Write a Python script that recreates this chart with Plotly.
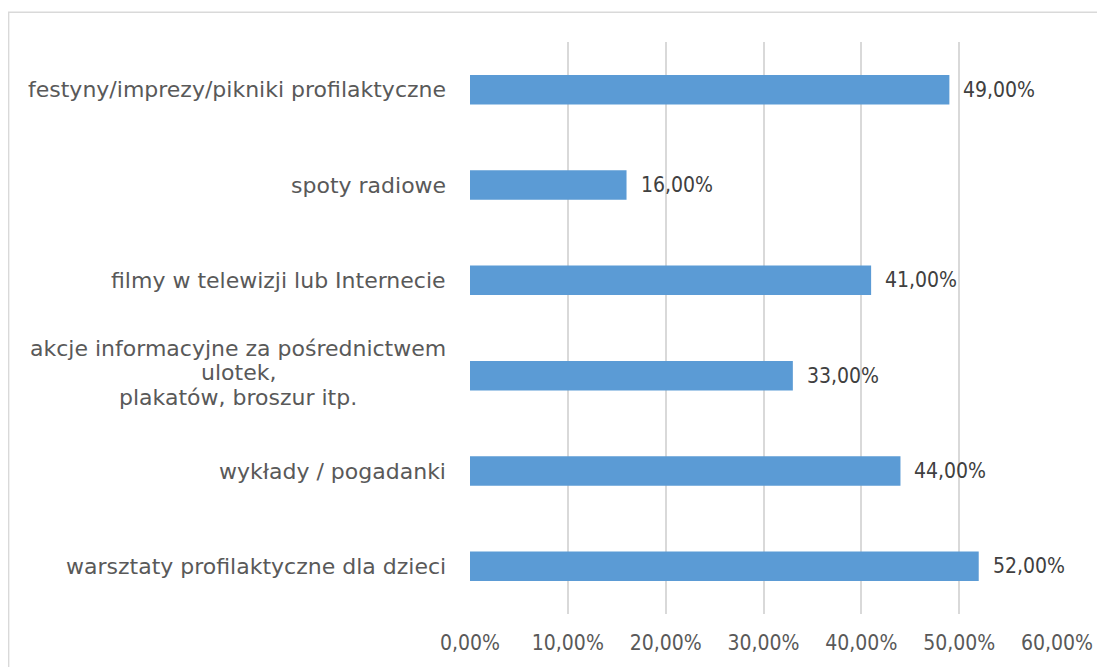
import plotly.graph_objects as go

categories = [
    "warsztaty profilaktyczne dla dzieci",
    "wykłady / pogadanki",
    "akcje informacyjne za pośrednictwem<br>ulotek,<br>plakatów, broszur itp.",
    "filmy w telewizji lub Internecie",
    "spoty radiowe",
    "festyny/imprezy/pikniki profilaktyczne",
]
values = [0.52, 0.44, 0.33, 0.41, 0.16, 0.49]
x_ticks = [0, 0.1, 0.2, 0.3, 0.4, 0.5, 0.6]

FONT = "DejaVu Sans"
NUMFONT = "DejaVu Sans Condensed, DejaVu Sans"
LINE_H = 24.5
fig = go.Figure()
fig.add_trace(go.Bar(
    y=categories, x=values, orientation="h",
    marker=dict(color="#5B9BD5", line=dict(width=0)),
    width=0.31,
))
for c, v in zip(categories, values):
    lines = c.split("<br>")
    if len(lines) == 1:
        fig.add_annotation(x=0, xref="paper", y=c, yref="y", text=c,
                           xanchor="right", xshift=-22, showarrow=False,
                           font=dict(family=FONT, size=22, color="#595959"))
    else:
        mid = (len(lines) - 1) / 2
        for i, ln in enumerate(lines):
            fig.add_annotation(x=0, xref="paper", y=c, yref="y", text=ln,
                               xanchor="center", xshift=-232,
                               yshift=(mid - i) * LINE_H + 3, showarrow=False,
                               font=dict(family=FONT, size=22, color="#595959"))
    fig.add_annotation(x=v, xref="x", y=c, yref="y", text=f"{v*100:.2f}%".replace(".", ","),
                       xanchor="left", xshift=12, showarrow=False,
                       font=dict(family=NUMFONT, size=21, color="#404040"))
fig.add_shape(type="rect", xref="paper", yref="paper",
              x0=-0.786, x1=1.2, y0=-0.2, y1=1.052,
              line=dict(color="#D9D9D9", width=1.5), layer="below")
fig.update_layout(
    width=1097, height=659,
    margin=dict(l=462, r=44, t=34, b=50),
    paper_bgcolor="white", plot_bgcolor="white",
    separators=", ",
    showlegend=False,
    xaxis=dict(range=[0, 0.6], tickvals=x_ticks, tickformat=".2%",
               showgrid=True, gridcolor="#D9D9D9", gridwidth=1.5,
               zeroline=False, showline=False, ticks="", ticklabelstandoff=14,
               tickfont=dict(family=NUMFONT, size=21, color="#595959")),
    yaxis=dict(showticklabels=False, showgrid=False, zeroline=False,
               categoryorder="array", categoryarray=categories, range=[-0.5, 5.5]),
)
fig.write_html("out.html")
